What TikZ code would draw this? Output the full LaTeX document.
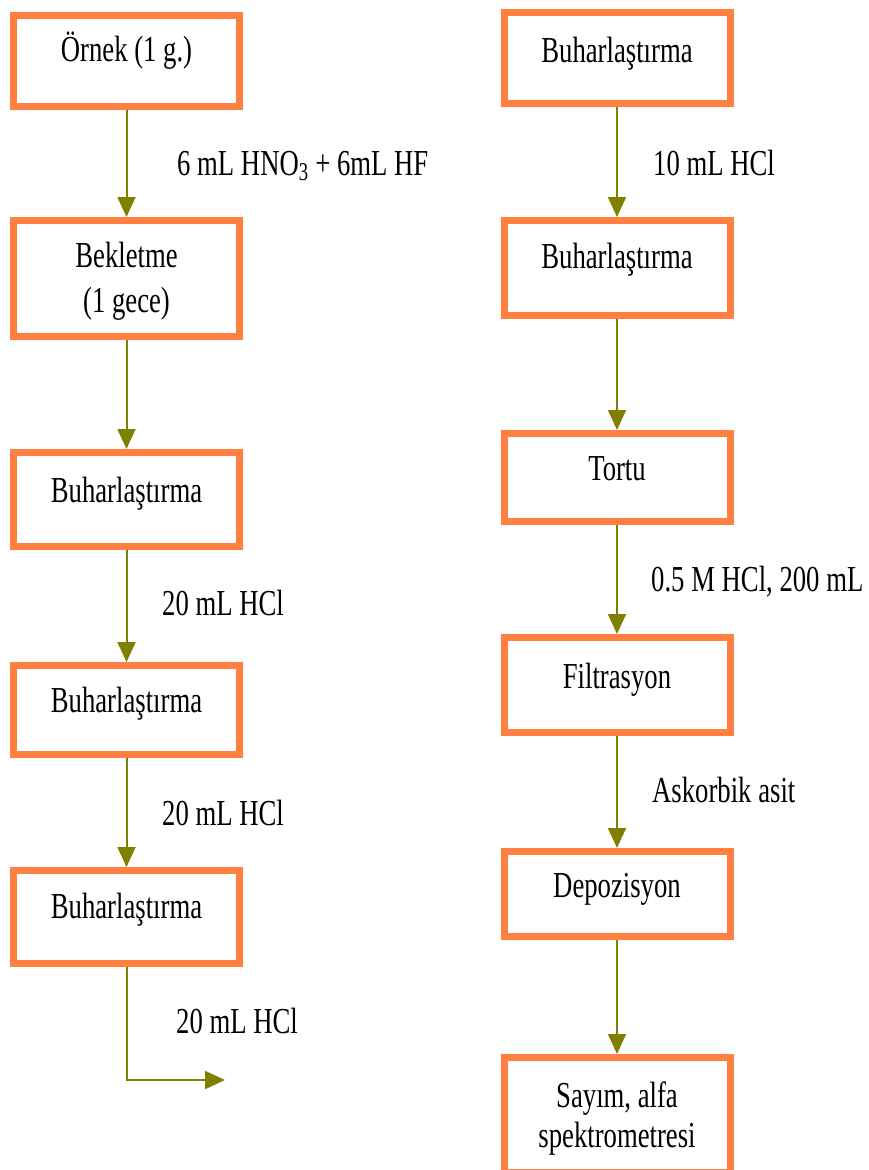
\documentclass[tikz,border=0pt]{standalone}
\usepackage{fontspec}
\setmainfont{Liberation Serif}
\usetikzlibrary{arrows.meta}
\definecolor{boxorange}{RGB}{255,128,64}
\definecolor{arrolive}{RGB}{128,128,0}
\newcommand{\stretchtext}[1]{\scalebox{1}[1.37]{#1}}
\begin{document}
\begin{tikzpicture}[x=1pt,y=-1pt,
  font=\fontsize{26.7pt}{32pt}\selectfont,
  stepbox/.style={draw=boxorange, line width=7pt, fill=white, inner sep=0pt,
    minimum width=226pt},
  txt/.style={inner sep=0pt, anchor=base},
  lbl/.style={inner sep=0pt, anchor=base west},
  conn/.style={draw=arrolive, line width=2pt, -{Triangle[length=20pt,width=18pt]}}]
\useasboundingbox (0,0) rectangle (868,1170);
\clip (0,0) rectangle (868,1170);
% left column boxes
\node[stepbox, minimum height=91pt]  (L1) at (126.5,61) {};
\node[stepbox, minimum height=116pt] (L2) at (126.5,278.5) {};
\node[stepbox, minimum height=94pt]  (L3) at (126.5,499.5) {};
\node[stepbox, minimum height=89pt]  (L4) at (126.5,710) {};
\node[stepbox, minimum height=93pt]  (L5) at (126.5,917) {};
% right column boxes
\node[stepbox, minimum height=91pt]  (R1) at (617,58) {};
\node[stepbox, minimum height=95pt]  (R2) at (617,268) {};
\node[stepbox, minimum height=88pt]  (R3) at (617,477.5) {};
\node[stepbox, minimum height=95pt]  (R4) at (617,685) {};
\node[stepbox, minimum height=85pt]  (R5) at (617,894) {};
\node[stepbox, minimum height=115pt] (R6) at (617,1115) {};
% box texts
\node[txt] (L1t)  at (126.5,61)  {\stretchtext{Örnek (1 g.)}};
\node[txt] (L2t)  at (126.5,267) {\stretchtext{Bekletme}};
\node[txt] (L2u)  at (126.5,312) {\stretchtext{(1 gece)}};
\node[txt] (L3t)  at (126.5,502) {\stretchtext{Buharlaştırma}};
\node[txt] (L4t)  at (126.5,712) {\stretchtext{Buharlaştırma}};
\node[txt] (L5t)  at (126.5,918) {\stretchtext{Buharlaştırma}};
\node[txt] (R1t)  at (617,62)    {\stretchtext{Buharlaştırma}};
\node[txt] (R2t)  at (617,268)   {\stretchtext{Buharlaştırma}};
\node[txt] (R3t)  at (617,480)   {\stretchtext{Tortu}};
\node[txt] (R4t)  at (617,688)   {\stretchtext{Filtrasyon}};
\node[txt] (R5t)  at (617,897)   {\stretchtext{Depozisyon}};
\node[txt] (R6t)  at (617,1107)  {\stretchtext{Sayım, alfa}};
\node[txt] (R6u)  at (617,1147)  {\stretchtext{spektrometresi}};
% connector labels
\node[lbl] (a1) at (177,175)  {\stretchtext{6 mL HNO\textsubscript{3} + 6mL HF}};
\node[lbl] (a2) at (162,615)  {\stretchtext{20 mL HCl}};
\node[lbl] (a3) at (162,825)  {\stretchtext{20 mL HCl}};
\node[lbl] (a4) at (176,1033) {\stretchtext{20 mL HCl}};
\node[lbl] (b1) at (653,175)  {\stretchtext{10 mL HCl}};
\node[lbl] (b2) at (651,591)  {\stretchtext{0.5 M HCl, 200 mL}};
\node[lbl] (b3) at (652,802)  {\stretchtext{Askorbik asit}};
% connectors
\draw[conn] (L1) -- (L2);
\draw[conn] (L2) -- (L3);
\draw[conn] (L3) -- (L4);
\draw[conn] (L4) -- (L5);
\coordinate (Lend) at (225,1080);
\draw[conn] (L5.south) |- (Lend);
\draw[conn] (R1) -- (R2);
\draw[conn] (R2) -- (R3);
\draw[conn] (R3) -- (R4);
\draw[conn] (R4) -- (R5);
\draw[conn] (R5) -- (R6);
\end{tikzpicture}
\end{document}
